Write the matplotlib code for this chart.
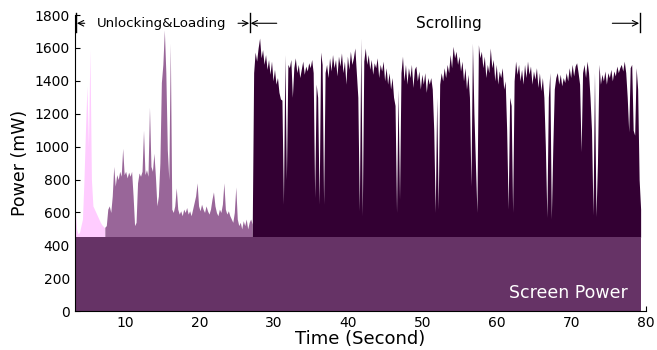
import numpy as np
import matplotlib
matplotlib.use("Agg")
import matplotlib.pyplot as plt

# ---- data (mW), sampled every 0.2 s -------------------------------------
STEP = 0.2
screen_span = [3.45, 79.4]
screen_power = 450

unlock_start = 3.3
unlock_power = [640, 500, 470, 480, 520, 560, 800, 1100, 1370, 1000,
                1590, 800, 640, 620, 600, 580, 560, 540, 525, 515, 505]

loading_start = 7.3
loading_power = [
    510,
    520, 620, 640, 600, 700, 880, 760, 830, 800, 850,
    820, 990, 830, 850, 810, 845, 820, 850, 700, 520,
    540, 780, 840, 820, 850, 1100, 830, 860, 820, 1240,
    880, 850, 960, 820, 640, 700, 900, 1390, 1500, 1710,
    1450, 980, 800, 1630, 620, 600, 640, 750, 620, 590,
    610, 580, 620, 600, 630, 590, 610, 580, 620, 660,
    700, 780, 640, 610, 650, 620, 600, 640, 610, 590,
    620, 680, 725, 640, 600, 580, 620, 600, 650, 780,
    620, 590, 610, 580, 560, 540, 600, 755, 560, 520,
    540, 500, 550, 520, 560, 500, 540, 560, 530,
]

scroll_start = 27.1
scroll_power = [
    450, 1450, 1575, 1520, 1600, 1660, 1540, 1590, 1500, 1560,
    1470, 1530, 1440, 1520, 1400, 1470, 1380, 1420, 1330, 1290,
    1283, 650, 1560, 800, 1500, 1480, 1530, 1300, 1480, 1540,
    1450, 1500, 1420, 1470, 1520, 1440, 1490, 1460, 1510, 1480,
    1530, 1450, 690, 1380, 1300, 650, 1575, 1500, 650, 1450,
    1500, 1420, 1540, 1460, 1560, 1480, 1530, 1430, 1550, 1490,
    1570, 1450, 1520, 1380, 1550, 1470, 1580, 1500, 1540, 1600,
    1450, 1300, 610, 1660, 580, 1520, 1600, 1500, 1560, 1470,
    1530, 1440, 1510, 1480, 1540, 1420, 1500, 1460, 1520, 1400,
    1480, 1380, 1450, 1350, 1420, 1300, 1250, 600, 1350, 680,
    1450, 1550, 1400, 1500, 1380, 1480, 1420, 1500, 1360, 1470,
    1490, 1400, 1460, 1350, 1440, 1380, 1450, 1330, 1420, 1380,
    1420, 1350, 1100, 600, 1300, 620, 1380, 1450, 1400, 1480,
    1420, 1500, 1450, 1560, 1480, 1610, 1540, 1580, 1500, 1550,
    1460, 1520, 1400, 1480, 1350, 1440, 1300, 760, 1630, 1200,
    900, 600, 1620, 1540, 1580, 1480, 1550, 1420, 1500, 1450,
    1600, 1480, 1530, 1400, 1500, 1380, 1460, 1420, 1480, 1350,
    1400, 1100, 620, 1300, 1250, 600, 1400, 1520, 1440, 1500,
    1400, 1470, 1380, 1500, 1420, 1520, 1440, 1490, 1380, 1460,
    1410, 1480, 1360, 1450, 1340, 1420, 1300, 1000, 570, 1300,
    1450, 560, 1000, 1350, 1420, 1450, 1380, 1440, 1370, 1420,
    1390, 1450, 1400, 1480, 1420, 1500, 1430, 1490, 1510, 1450,
    1380, 970, 1450, 1500, 1420, 1520, 1450, 1300, 1100, 585,
    1450, 575, 900, 1500, 1380, 1440, 1400, 1460, 1380, 1450,
    1420, 1470, 1400, 1460, 1430, 1490, 1450, 1480, 1500, 1460,
    1520, 1450, 1300, 1090, 1480, 1500, 1100, 1070, 1480, 1350,
    800, 620,
]


def times(start, values):
    return np.round(start + STEP * np.arange(len(values)), 2)


fig = plt.figure(figsize=(6.57, 3.5), dpi=100)
ax = fig.add_axes([0.114, 0.111, 0.869, 0.846])

t_u = times(unlock_start, unlock_power)
t_l = times(loading_start, loading_power)
t_s = times(scroll_start, scroll_power)

ax.fill_between(t_u, 0, unlock_power, color="#ffccff", lw=0, zorder=1)
ax.fill_between(t_l, screen_power, loading_power, color="#996699", lw=0, zorder=1)
ax.fill_between(t_s, screen_power, scroll_power, color="#330033", lw=0, zorder=1)
ax.fill_between(screen_span, 0, screen_power, color="#663366", lw=0, zorder=2)

ax.text(77.6, 110, "Screen Power", color="white", fontsize=12.5,
        ha="right", va="center", zorder=3)

# phase annotations
ybar = 1750
for xb in (3.45, 26.8, 79.2):
    ax.plot([xb, xb], [1695, 1810], color="black", lw=1, clip_on=False)
arrow = dict(arrowstyle="->", color="black", lw=0.8, shrinkA=0, shrinkB=0)
ax.annotate("", xy=(3.55, ybar), xytext=(4.6, ybar), arrowprops=arrow)
ax.annotate("", xy=(26.7, ybar), xytext=(25.2, ybar), arrowprops=arrow)
ax.annotate("", xy=(26.9, ybar), xytext=(30.4, ybar), arrowprops=arrow)
ax.annotate("", xy=(79.1, ybar), xytext=(75.5, ybar), arrowprops=arrow)
ax.text(14.9, ybar, "Unlocking&Loading", fontsize=9.6, ha="center", va="center")
ax.text(53.5, ybar, "Scrolling", fontsize=11, ha="center", va="center")

ax.set_xlim(3.28, 80)
ax.set_ylim(0, 1800)
ax.set_xticks(range(10, 81, 10))
ax.set_yticks(range(0, 1801, 200))
ax.tick_params(direction="in", labelsize=10)
ax.spines["top"].set_visible(False)
ax.spines["right"].set_visible(False)
ax.set_xlabel("Time (Second)", fontsize=13, labelpad=0)
ax.set_ylabel("Power (mW)", fontsize=12.5)

fig.savefig("out.png", dpi=100)
